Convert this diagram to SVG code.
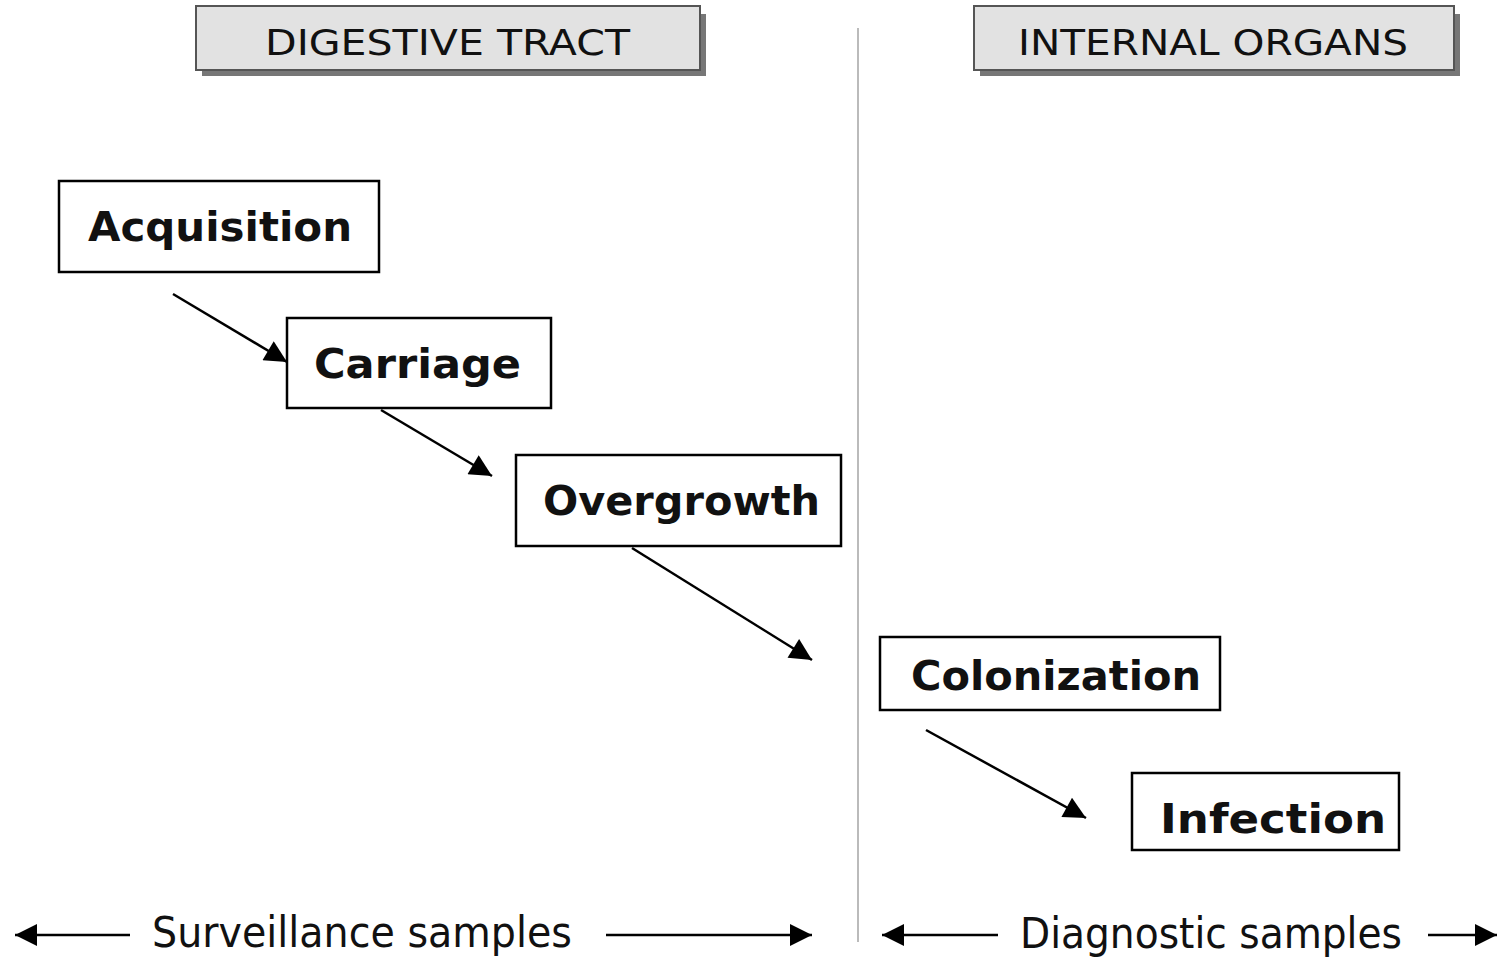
<svg xmlns="http://www.w3.org/2000/svg" width="1506" height="959" viewBox="0 0 1506 959">
<defs>
<marker id="ah" viewBox="0 0 10 10" refX="10" refY="5" markerWidth="10" markerHeight="10" markerUnits="userSpaceOnUse" orient="auto-start-reverse">
<path d="M0,0 L10,5 L0,10 z" fill="#000"/>
</marker>
<marker id="ahb" viewBox="0 0 10 10" refX="10" refY="5" markerWidth="26" markerHeight="22" markerUnits="userSpaceOnUse" orient="auto-start-reverse">
<path d="M0,0 L10,5 L0,10 z" fill="#000"/>
</marker>
</defs>
<style>
.box{fill:#fff;stroke:#000;stroke-width:2.5}
.hdr{fill:#e2e2e2;stroke:#555;stroke-width:2}
.shadow{fill:#777}
.lbl{font-family:"DejaVu Sans",sans-serif;font-weight:bold;font-size:40px;fill:#111}
.htxt{font-family:"DejaVu Sans",sans-serif;font-size:36px;fill:#111}
.btxt{font-family:"DejaVu Sans",sans-serif;font-size:42px;fill:#111}
.conn{stroke:#000;stroke-width:2.5;fill:none}
</style>
<rect width="1506" height="959" fill="#fff"/>
<line x1="858" y1="28" x2="858" y2="942" stroke="#bbb" stroke-width="2"/>
<g id="hdr-digestive">
<rect class="shadow" x="202" y="14" width="504" height="62"/>
<rect class="hdr" x="196" y="6" width="504" height="64"/>
<text class="htxt" x="265" y="55" textLength="365" lengthAdjust="spacingAndGlyphs">DIGESTIVE TRACT</text>
</g>
<g id="hdr-internal">
<rect class="shadow" x="980" y="14" width="480" height="62"/>
<rect class="hdr" x="974" y="6" width="480" height="64"/>
<text class="htxt" x="1018" y="55" textLength="390" lengthAdjust="spacingAndGlyphs">INTERNAL ORGANS</text>
</g>
<g id="acquisition">
<rect class="box" x="59" y="181" width="320" height="91"/>
<text class="lbl" x="88" y="241" textLength="264" lengthAdjust="spacingAndGlyphs">Acquisition</text>
</g>
<g id="carriage">
<rect class="box" x="287" y="318" width="264" height="90"/>
<text class="lbl" x="314" y="378" textLength="207" lengthAdjust="spacingAndGlyphs">Carriage</text>
</g>
<g id="overgrowth">
<rect class="box" x="516" y="455" width="325" height="91"/>
<text class="lbl" x="543" y="515" textLength="277" lengthAdjust="spacingAndGlyphs">Overgrowth</text>
</g>
<g id="colonization">
<rect class="box" x="880" y="637" width="340" height="73"/>
<text class="lbl" x="911" y="690" textLength="290" lengthAdjust="spacingAndGlyphs">Colonization</text>
</g>
<g id="infection">
<rect class="box" x="1132" y="773" width="267" height="77"/>
<text class="lbl" x="1160" y="833" textLength="226" lengthAdjust="spacingAndGlyphs">Infection</text>
</g>
<g id="connectors">
<line class="conn" x1="173" y1="294" x2="287" y2="362" marker-end="url(#ahb)"/>
<line class="conn" x1="381" y1="410" x2="492" y2="476" marker-end="url(#ahb)"/>
<line class="conn" x1="632" y1="548" x2="812" y2="660" marker-end="url(#ahb)"/>
<line class="conn" x1="926" y1="730" x2="1086" y2="818" marker-end="url(#ahb)"/>
<line class="conn" x1="130" y1="935" x2="15" y2="935" marker-end="url(#ahb)"/>
<line class="conn" x1="606" y1="935" x2="812" y2="935" marker-end="url(#ahb)"/>
<line class="conn" x1="998" y1="935" x2="882" y2="935" marker-end="url(#ahb)"/>
<line class="conn" x1="1428" y1="935" x2="1497" y2="935" marker-end="url(#ahb)"/>
</g>
<text class="btxt" x="152" y="947" textLength="420" lengthAdjust="spacingAndGlyphs">Surveillance samples</text>
<text class="btxt" x="1020" y="948" textLength="382" lengthAdjust="spacingAndGlyphs">Diagnostic samples</text>
</svg>
